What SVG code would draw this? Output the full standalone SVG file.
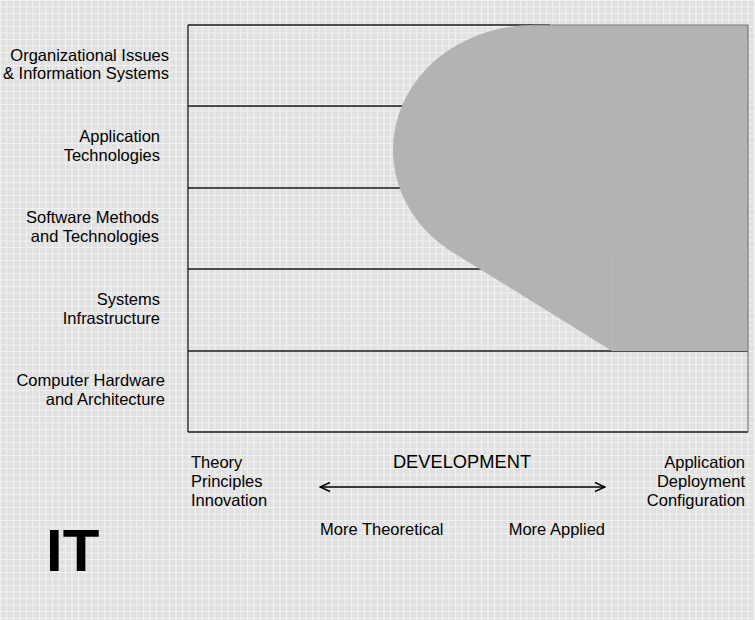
<svg xmlns="http://www.w3.org/2000/svg" width="755" height="620" viewBox="0 0 755 620">
<defs>
<pattern id="grid" x="0" y="0" width="6.5" height="6.5" patternUnits="userSpaceOnUse">
<rect width="6.5" height="6.5" fill="#e1e1e1"/>
<path d="M0 0.5H6.5M0.5 0V6.5" stroke="#f2f2f2" stroke-width="1" fill="none"/>
</pattern>
<marker id="chev" viewBox="0 0 12 12" refX="11" refY="6" markerWidth="12" markerHeight="12" markerUnits="userSpaceOnUse" orient="auto-start-reverse">
<path d="M1 1.5L11 6L1 10.5" fill="none" stroke="#000" stroke-width="1.4"/>
</marker>
<style>
text{font-family:"Liberation Sans",Arial,sans-serif;font-size:16.5px;fill:#000}
.r{text-anchor:end}
.ln{stroke:#1a1a1a;stroke-width:1.3;fill:none}
</style>
</defs>
<rect width="755" height="620" fill="url(#grid)"/>

<g id="chart">
<path class="ln" d="M188 25H550M188 106H420M188 188H420M188 269H500M188 351H748M188 432H748M188 25V432"/>
<path d="M533 25H748V351H612L457 255A140 125 0 0 1 533 25Z" fill="#b3b3b3"/>
<path d="M612 258V351" stroke="#bdbdbd" stroke-width="0.8"/>
<path d="M533 25H748V432" stroke="#7a7a7a" stroke-width="1.2" fill="none"/>
</g>

<g id="row-org"><text class="r" x="169" y="61">Organizational Issues</text><text class="r" x="169" y="79">&amp; Information Systems</text></g>
<g id="row-app"><text class="r" x="160" y="142">Application</text><text class="r" x="160" y="161">Technologies</text></g>
<g id="row-sw"><text class="r" x="159" y="223">Software Methods</text><text class="r" x="159" y="242">and Technologies</text></g>
<g id="row-sys"><text class="r" x="160" y="305">Systems</text><text class="r" x="160" y="324">Infrastructure</text></g>
<g id="row-hw"><text class="r" x="165" y="386">Computer Hardware</text><text class="r" x="165" y="405">and Architecture</text></g>

<g id="left-label"><text x="191" y="468">Theory</text><text x="191" y="487">Principles</text><text x="191" y="506">Innovation</text></g>
<g id="right-label"><text class="r" x="745" y="468">Application</text><text class="r" x="745" y="487">Deployment</text><text class="r" x="745" y="506">Configuration</text></g>
<g id="dev"><text x="462" y="468" text-anchor="middle" style="font-size:18.3px">DEVELOPMENT</text></g>
<g id="more-theo"><text x="320" y="535">More Theoretical</text></g>
<g id="more-app"><text class="r" x="605" y="535">More Applied</text></g>
<g id="it"><text x="46" y="571" style="font-size:60px;font-weight:bold">IT</text></g>

<g id="connectors">
<path d="M320 487H605" stroke="#000" stroke-width="1.4" fill="none" marker-start="url(#chev)" marker-end="url(#chev)"/>
</g>
</svg>
